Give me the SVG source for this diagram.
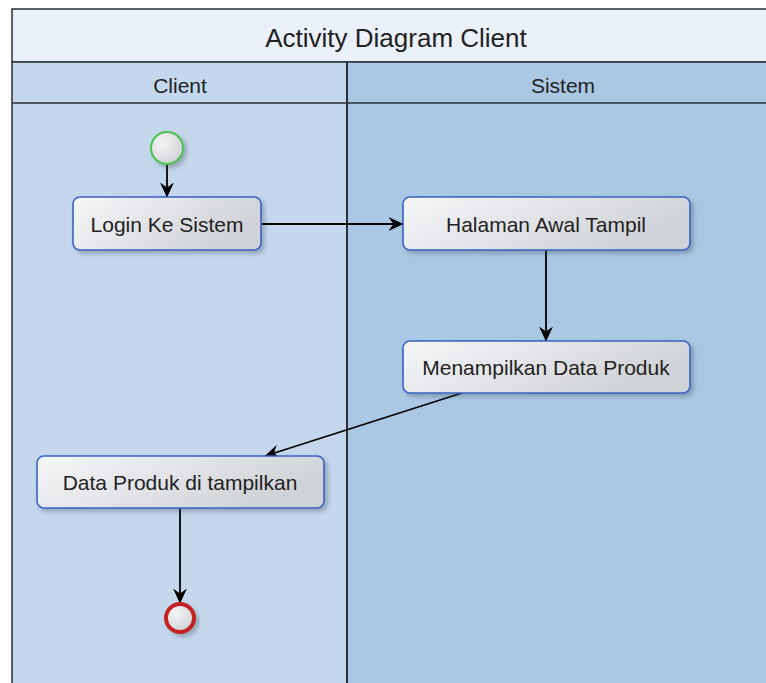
<svg xmlns="http://www.w3.org/2000/svg" width="766" height="683" viewBox="0 0 766 683">
  <defs>
    <linearGradient id="actFill" x1="0" y1="0" x2="1" y2="0.4">
      <stop offset="0" stop-color="#f6f7f9"/>
      <stop offset="1" stop-color="#cfd2d6"/>
    </linearGradient>
    <radialGradient id="dotFill" cx="0.35" cy="0.35" r="0.75">
      <stop offset="0" stop-color="#f4f5f6"/>
      <stop offset="1" stop-color="#cdd0d4"/>
    </radialGradient>
    <filter id="shadow" x="-10%" y="-20%" width="130%" height="150%">
      <feDropShadow dx="3" dy="3" stdDeviation="2" flood-color="#3c4a5a" flood-opacity="0.35"/>
    </filter>
    <marker id="arrow" viewBox="0 0 15 14" refX="14.5" refY="7" markerWidth="15" markerHeight="14" markerUnits="userSpaceOnUse" orient="auto">
      <path d="M0,0 L15,7 L0,14 L5,7 Z" fill="#000"/>
    </marker>
    <style>
      .label { font-family: "Liberation Sans", Arial, sans-serif; font-size: 21px; fill: #222; text-anchor: middle; dominant-baseline: central; }
      .lane { font-family: "Liberation Sans", Arial, sans-serif; font-size: 21px; fill: #222; text-anchor: middle; dominant-baseline: central; }
      .title { font-family: "Liberation Sans", Arial, sans-serif; font-size: 26px; fill: #222; text-anchor: middle; dominant-baseline: central; }
      .act { fill: url(#actFill); stroke: #3a62c4; stroke-width: 1.6; filter: url(#shadow); }
      .edge { stroke: #000; stroke-width: 1.8; fill: none; marker-end: url(#arrow); }
    </style>
  </defs>

  <!-- swimlane frame -->
  <rect x="0" y="0" width="766" height="683" fill="#ffffff"/>
  <rect x="12" y="9" width="760" height="53" fill="#eaf1fb" stroke="#2b2f36" stroke-width="1.5"/>
  <text class="title" x="396" y="38">Activity Diagram Client</text>

  <!-- lanes -->
  <rect x="12" y="62" width="335" height="630" fill="#c4d7ed" stroke="#2b2f36" stroke-width="1.5"/>
  <rect x="347" y="62" width="425" height="630" fill="#aac8e3" stroke="#2b2f36" stroke-width="1.5"/>
  <line x1="12" y1="103" x2="772" y2="103" stroke="#2b2f36" stroke-width="1.5"/>
  <line x1="347" y1="62" x2="347" y2="683" stroke="#2b2f36" stroke-width="2"/>
  <text class="lane" x="180" y="85">Client</text>
  <text class="lane" x="563" y="85">Sistem</text>

  <!-- connectors -->
  <g id="connectors">
    <line class="edge" x1="167" y1="164" x2="167" y2="197"/>
    <line class="edge" x1="261" y1="224" x2="403" y2="224"/>
    <line class="edge" x1="546" y1="250" x2="546" y2="341"/>
    <line class="edge" x1="462" y1="393" x2="265" y2="456"/>
    <line class="edge" x1="180" y1="508" x2="180" y2="603"/>
  </g>

  <!-- nodes -->
  <g id="start">
    <circle cx="167" cy="148" r="16" fill="url(#dotFill)" stroke="#4cc24c" stroke-width="2" filter="url(#shadow)"/>
  </g>
  <g id="login">
    <rect class="act" x="73" y="197" width="188" height="53" rx="7"/>
    <text class="label" x="167" y="224">Login Ke Sistem</text>
  </g>
  <g id="halaman">
    <rect class="act" x="403" y="197" width="287" height="53" rx="7"/>
    <text class="label" x="546" y="224">Halaman Awal Tampil</text>
  </g>
  <g id="menampilkan">
    <rect class="act" x="403" y="341" width="287" height="52" rx="7"/>
    <text class="label" x="546" y="367">Menampilkan Data Produk</text>
  </g>
  <g id="dataproduk">
    <rect class="act" x="37" y="456" width="287" height="52" rx="7"/>
    <text class="label" x="180" y="482">Data Produk di tampilkan</text>
  </g>
  <g id="end">
    <circle cx="180" cy="618" r="14" fill="url(#dotFill)" stroke="#c42222" stroke-width="4" filter="url(#shadow)"/>
  </g>
</svg>
